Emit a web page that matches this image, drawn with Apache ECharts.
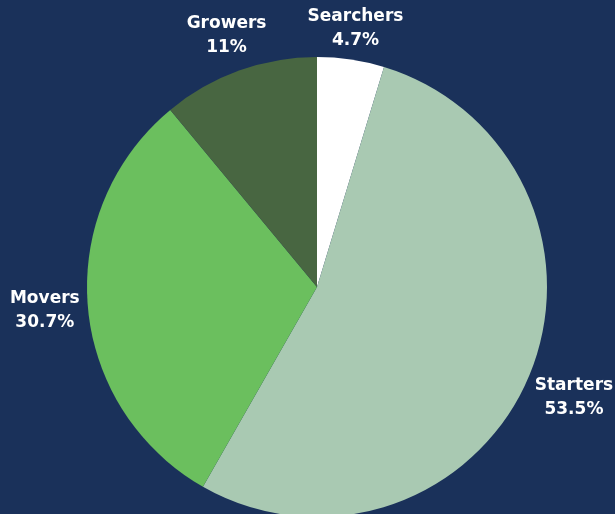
<!DOCTYPE html>
<html>
<head>
<meta charset="utf-8">
<script src="https://cdn.jsdelivr.net/npm/echarts@6/dist/echarts.min.js"></script>
<style>
html,body{margin:0;padding:0;background:#1a315a;}
#c{width:615px;height:514px;}
</style>
</head>
<body>
<div id="c"></div>
<script>
var categories = ["Searchers", "Starters", "Movers", "Growers"];
var values = [4.7, 53.5, 30.7, 11];
var valueLabels = ["4.7%", "53.5%", "30.7%", "11%"];
var colors = ["#ffffff", "#a9c9b2", "#6bbf5e", "#486641"];

var LABEL_GAP = 7;

var chart = echarts.init(document.getElementById('c'), null, {renderer: 'canvas'});
var data = categories.map(function (c, i) {
  return { name: c, value: values[i], itemStyle: { color: colors[i] } };
});

chart.setOption({
  backgroundColor: '#1a315a',
  animation: false,
  series: [{
    type: 'pie',
    center: [317, 287],
    radius: 230,
    startAngle: 90,
    clockwise: true,
    avoidLabelOverlap: false,
    emphasis: { disabled: true, scale: false },
    itemStyle: { borderWidth: 0 },
    data: data,
    label: {
      show: true,
      position: 'outside',
      color: '#ffffff',
      fontFamily: 'DejaVu Sans',
      fontWeight: 'bold',
      fontSize: 17,
      lineHeight: 24,
      align: 'center',
      formatter: function (p) { return p.name + '\n' + valueLabels[p.dataIndex]; }
    },
    labelLine: { show: true, length: 10, length2: 0, lineStyle: { opacity: 0, width: 0 } },
    labelLayout: function (p) {
      var pts = p.labelLinePoints;
      if (!pts) return {};
      var x1 = pts[0][0], y1 = pts[0][1], x2 = pts[1][0], y2 = pts[1][1];
      var dx = x2 - x1, dy = y2 - y1, L = Math.sqrt(dx * dx + dy * dy) || 1;
      dx /= L; dy /= L;
      var w = p.labelRect.width, h = p.labelRect.height;
      var ext = w / 2 * Math.abs(dx) + h * 0.36 * Math.abs(dy);
      return {
        x: x1 + dx * (LABEL_GAP + ext),
        y: y1 + dy * (LABEL_GAP + ext),
        align: 'center',
        verticalAlign: 'middle'
      };
    }
  }]
});
</script>
</body>
</html>
